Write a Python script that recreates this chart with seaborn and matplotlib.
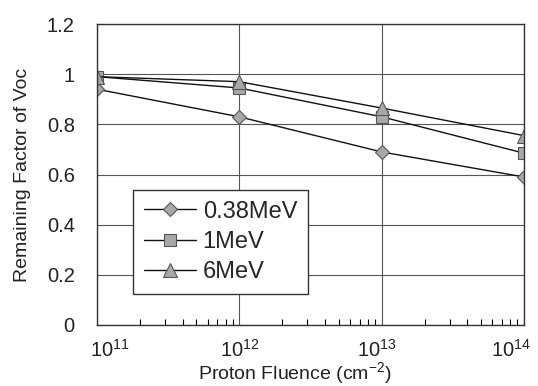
import matplotlib
matplotlib.use("Agg")
import matplotlib.pyplot as plt
import matplotlib.transforms as mtransforms
import seaborn as sns
import pandas as pd
import numpy as np
from matplotlib.ticker import LogLocator, FixedLocator

fluence = [1e11, 1e12, 1e13, 1e14]
v038 = [0.94, 0.83, 0.69, 0.59]
v1 = [0.99, 0.945, 0.83, 0.685]
v6 = [0.99, 0.97, 0.865, 0.755]
series_names = ["0.38MeV", "1MeV", "6MeV"]
xtick_labels = [r"$\mathregular{10^{11}}$", r"$\mathregular{10^{12}}$",
                r"$\mathregular{10^{13}}$", r"$\mathregular{10^{14}}$"]
ytick_values = [0, 0.2, 0.4, 0.6, 0.8, 1.0, 1.2]
ytick_labels = ["0", "0.2", "0.4", "0.6", "0.8", "1", "1.2"]

df = pd.DataFrame({
    "fluence": fluence * 3,
    "value": v038 + v1 + v6,
    "series": [series_names[0]] * 4 + [series_names[1]] * 4 + [series_names[2]] * 4,
})

sns.set_theme(style="white")
plt.rcParams["font.family"] = ["Liberation Sans", "DejaVu Sans"]

fig = plt.figure(figsize=(5.38, 3.86), dpi=100)
ax = fig.add_axes([97 / 538, 1 - 325 / 386, (524 - 97) / 538, (325 - 24) / 386])

markers = {"0.38MeV": "D", "1MeV": "s", "6MeV": "^"}
sizes = {"0.38MeV": 7.5, "1MeV": 9, "6MeV": 10}
for name in series_names:
    sub = df[df["series"] == name]
    sns.lineplot(data=sub, x="fluence", y="value", ax=ax, color="#111111", lw=1,
                 marker=markers[name], markersize=sizes[name], markerfacecolor="#a8a8a8",
                 markeredgecolor="#555555", markeredgewidth=0.8, label=name)

ax.set_xscale("log")
ax.set_xlim(1e11, 1e14)
ax.set_ylim(0, 1.2)
ax.set_yticks(ytick_values)
ax.set_yticklabels(ytick_labels)
ax.xaxis.set_major_locator(FixedLocator(fluence))
ax.set_xticklabels(xtick_labels)
ax.xaxis.set_minor_locator(LogLocator(base=10, subs=np.arange(2, 10)))
ax.tick_params(axis="x", which="minor", direction="in", length=4, width=0.8, color="black", bottom=True)
ax.tick_params(axis="x", which="major", direction="in", length=0, labelsize=14.5, pad=10, colors="#222222")
ax.tick_params(axis="y", which="major", length=0, labelsize=14.5, pad=16, colors="#222222")
ax.grid(True, which="major", color="#555555", lw=0.8)
for s in ax.spines.values():
    s.set_color("#333333")
    s.set_linewidth(1)

labels = ax.get_xticklabels()
labels[0].set_transform(labels[0].get_transform() + mtransforms.ScaledTranslation(13 / 100, 0, fig.dpi_scale_trans))
labels[-1].set_transform(labels[-1].get_transform() + mtransforms.ScaledTranslation(-13 / 100, 0, fig.dpi_scale_trans))
labels[2].set_transform(labels[2].get_transform() + mtransforms.ScaledTranslation(-5 / 100, 0, fig.dpi_scale_trans))

ax.set_xlabel(r"Proton Fluence (cm$\mathregular{^{-2}}$)", fontsize=14, color="#222222")
ax.xaxis.set_label_coords((295 - 97) / 427, -(360 - 325) / 301)
ax.set_ylabel("Remaining Factor of Voc", fontsize=14, color="#222222")
ax.yaxis.set_label_coords(-(97 - 31) / 427, 0.5)

leg = ax.legend(loc="upper left", bbox_to_anchor=((133 - 97) / 427, (325 - 190) / 301),
                borderaxespad=0,
                fontsize=17, frameon=True, fancybox=False, edgecolor="#333333",
                handlelength=2.2, handletextpad=0.3, borderpad=0.45, labelspacing=0.35)
leg.get_frame().set_linewidth(1)
leg.get_frame().set_facecolor("white")
leg.get_frame().set_alpha(1)

fig.savefig("out.png", dpi=100)
